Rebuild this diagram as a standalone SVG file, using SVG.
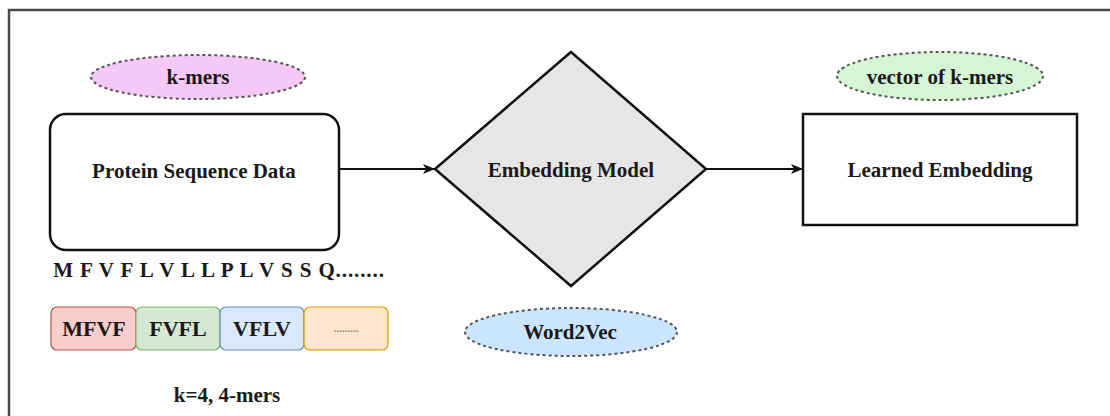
<svg xmlns="http://www.w3.org/2000/svg" width="1110" height="416" viewBox="0 0 1110 416">
  <defs>
    <marker id="arrow" viewBox="0 0 12 12" refX="11" refY="6" markerWidth="12" markerHeight="12" markerUnits="userSpaceOnUse" orient="auto">
      <path d="M0,1 L12,6 L0,11 L3,6 Z" fill="#111"/>
    </marker>
  </defs>
  <style>
    text { font-family: "Liberation Serif", "Times New Roman", serif; font-weight: bold; fill: #1a1a1a; text-anchor: middle; dominant-baseline: central; }
    .node { fill: #fff; stroke: #111; stroke-width: 2.5; }
    .tag { stroke: #555; stroke-width: 2; stroke-dasharray: 3 3; }
    .kmer { stroke-width: 1.2; }
    .edge { fill: none; stroke: #111; stroke-width: 2; }
  </style>

  <rect x="0" y="0" width="1110" height="416" fill="#fff"/>
  <!-- outer frame: top and left edges only, the rest runs off the canvas -->
  <rect x="9" y="10" width="1200" height="500" fill="none" stroke="#4a4a4a" stroke-width="2.5"/>

  <g id="connectors">
    <line class="edge" x1="339" y1="169" x2="434" y2="169" marker-end="url(#arrow)"/>
    <line class="edge" x1="706" y1="169" x2="802" y2="169" marker-end="url(#arrow)"/>
  </g>

  <g id="kmers-tag">
    <ellipse class="tag" cx="198" cy="77" rx="107" ry="22" fill="#f6c8f6"/>
    <text x="198" y="77" font-size="21">k-mers</text>
  </g>

  <g id="protein-data">
    <rect class="node" x="50" y="114" width="289" height="136" rx="16"/>
    <text x="194" y="171" font-size="21">Protein Sequence Data</text>
  </g>

  <g id="sequence">
    <text x="219" y="270" font-size="21" letter-spacing="0.9">M F V F L V L L P L V S S Q........</text>
  </g>

  <g id="kmer-boxes">
    <rect class="kmer" x="51" y="307" width="85" height="43" rx="6" fill="#f8cecc" stroke="#b85450"/>
    <text x="94" y="328" font-size="22">MFVF</text>
    <rect class="kmer" x="136" y="307" width="84" height="43" rx="6" fill="#d5e8d4" stroke="#82b366"/>
    <text x="178" y="328" font-size="22">FVFL</text>
    <rect class="kmer" x="220" y="307" width="84" height="43" rx="6" fill="#dae8fc" stroke="#6c8ebf"/>
    <text x="262" y="328" font-size="22">VFLV</text>
    <rect class="kmer" x="304" y="307" width="84" height="43" rx="6" fill="#ffe6cc" stroke="#d79b00"/>
    <text x="346" y="328" font-size="11" style="fill:#8a8a8a">.........</text>
  </g>

  <g id="k-label">
    <text x="227" y="395" font-size="21">k=4, 4-mers</text>
  </g>

  <g id="embedding-model">
    <polygon class="node" points="571,52 706,169 571,286 435,169" style="fill:#e6e6e6"/>
    <text x="571" y="170" font-size="21">Embedding Model</text>
  </g>

  <g id="word2vec-tag">
    <ellipse class="tag" cx="571" cy="332" rx="106" ry="24" fill="#cce5ff"/>
    <text x="570" y="332" font-size="21">Word2Vec</text>
  </g>

  <g id="learned-embedding">
    <rect class="node" x="803" y="114" width="274" height="111"/>
    <text x="940" y="170" font-size="21">Learned Embedding</text>
  </g>

  <g id="vector-tag">
    <ellipse class="tag" cx="940" cy="76" rx="103" ry="24" fill="#d5f5d5"/>
    <text x="940" y="77" font-size="21">vector of k-mers</text>
  </g>
</svg>
